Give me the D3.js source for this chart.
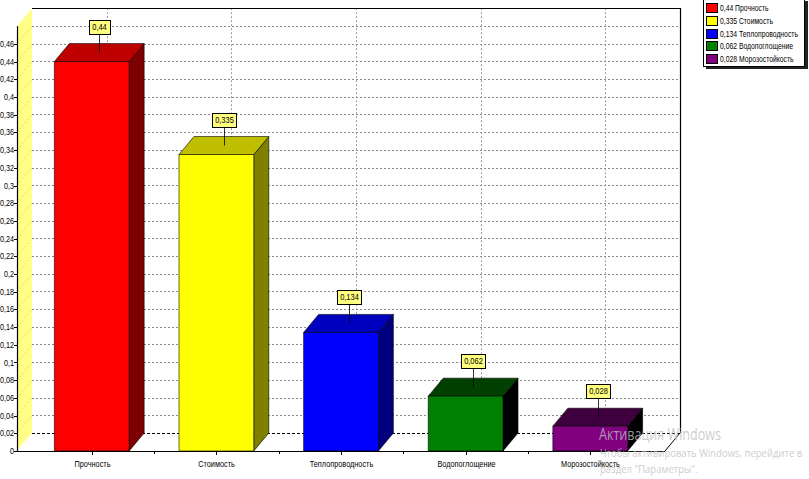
<!DOCTYPE html>
<html>
<head>
<meta charset="utf-8">
<script src="https://cdn.jsdelivr.net/npm/d3@7"></script>
<style>
  html, body { margin: 0; padding: 0; background: #fff; }
  svg { display: block; font-family: "Liberation Sans", Arial, sans-serif; }
</style>
</head>
<body>
<svg id="chart" width="809" height="479"></svg>
<script>
// ---- data ----
const categories = ["Прочность", "Стоимость", "Теплопроводность", "Водопоглощение", "Морозостойкость"];
const values = [0.44, 0.335, 0.134, 0.062, 0.028];
const valueLabels = ["0,44", "0,335", "0,134", "0,062", "0,028"];
const colors = ["#ff0000", "#ffff00", "#0000ff", "#008000", "#800080"];
const yTicks = [0, 0.02, 0.04, 0.06, 0.08, 0.1, 0.12, 0.14, 0.16, 0.18, 0.2, 0.22, 0.24, 0.26, 0.28, 0.3, 0.32, 0.34, 0.36, 0.38, 0.4, 0.42, 0.44, 0.46];
const gridValues = [0, 0.02, 0.04, 0.06, 0.08, 0.1, 0.12, 0.14, 0.16, 0.18, 0.2, 0.22, 0.24, 0.26, 0.28, 0.3, 0.32, 0.34, 0.36, 0.38, 0.4, 0.42, 0.44, 0.46];

// ---- layout ----
const svg = d3.select("#chart");
const pLeft = 17, pRight = 665, pBottom = 451;
const DX = 15, DY = -18;  // 3D depth offset
const y = d3.scaleLinear().domain([0, 0.48]).range([pBottom, pBottom - 0.48 * 885]);
const x = d3.scaleBand().domain(categories).range([pLeft, pRight]).paddingInner(0.4).paddingOuter(0.3);
const pTop = y(0.48);

function darken(c, amt) {
  const r = d3.rgb(c);
  return d3.rgb(Math.max(r.r - amt, 0), Math.max(r.g - amt, 0), Math.max(r.b - amt, 0)).formatHex();
}
const fmt = v => String(+v.toFixed(3)).replace(".", ",");
const pts = arr => arr.map(p => p.join(",")).join(" ");
function condense(sel, f) {
  sel.each(function () {
    const w = this.getComputedTextLength();
    d3.select(this).attr("textLength", w * f).attr("lengthAdjust", "spacingAndGlyphs");
  });
  return sel;
}

// back wall
svg.append("rect").attr("x", pLeft + DX).attr("y", pTop + DY).attr("width", pRight - pLeft).attr("height", pBottom - pTop)
  .attr("fill", "#fff");

// horizontal grid on back wall
svg.append("g").selectAll("line").data(gridValues.filter(v => v > 0)).join("line")
  .attr("x1", pLeft + DX).attr("x2", pRight + DX)
  .attr("y1", d => Math.round(y(d) + DY) + 0.5).attr("y2", d => Math.round(y(d) + DY) + 0.5)
  .attr("stroke", "#8a8a8a").attr("stroke-width", 1).attr("stroke-dasharray", "2,2");
// vertical grid on back wall
svg.append("g").selectAll("line").data(categories).join("line")
  .attr("x1", d => Math.round(x(d) + x.bandwidth() / 2 + DX) + 0.5).attr("x2", d => Math.round(x(d) + x.bandwidth() / 2 + DX) + 0.5)
  .attr("y1", pTop + DY).attr("y2", pBottom + DY)
  .attr("stroke", "#9a9a9a").attr("stroke-width", 1).attr("stroke-dasharray", "2,2");

// left wall
svg.append("polygon")
  .attr("points", pts([[pLeft, pBottom], [pLeft, pTop], [pLeft + DX, pTop + DY], [pLeft + DX, pBottom + DY]]))
  .attr("fill", "#ffff88");
svg.append("g").selectAll("line").data(gridValues.filter(v => v > 0)).join("line")
  .attr("x1", pLeft).attr("x2", pLeft + DX)
  .attr("y1", d => y(d)).attr("y2", d => y(d) + DY)
  .attr("stroke", "#d8d860").attr("stroke-width", 0.8).attr("stroke-dasharray", "2,2");

// floor
svg.append("polygon")
  .attr("points", pts([[pLeft, pBottom], [pLeft + DX, pBottom + DY], [pRight + DX, pBottom + DY], [pRight, pBottom]]))
  .attr("fill", "#fff");
svg.append("line").attr("x1", pRight).attr("y1", pBottom).attr("x2", pRight + DX).attr("y2", pBottom + DY)
  .attr("stroke", "#000").attr("stroke-width", 1);
// back floor line (dashed black)
svg.append("line").attr("x1", pLeft + DX).attr("x2", pRight + DX)
  .attr("y1", Math.round(y(0) + DY) + 0.5).attr("y2", Math.round(y(0) + DY) + 0.5)
  .attr("stroke", "#000").attr("stroke-width", 1).attr("stroke-dasharray", "3,2");

// back wall frame (top and right)
svg.append("polyline")
  .attr("points", pts([[pLeft + DX, Math.round(pTop + DY) + 0.5], [Math.round(pRight + DX) + 0.5, Math.round(pTop + DY) + 0.5], [Math.round(pRight + DX) + 0.5, pBottom + DY]]))
  .attr("fill", "none").attr("stroke", "#000").attr("stroke-width", 1.2);

// bars
const bars = svg.append("g");
categories.forEach((c, i) => {
  const x0 = x(c), w = x.bandwidth(), yt = y(values[i]), yb = y(0);
  const g = bars.append("g").attr("stroke", "#000").attr("stroke-width", 0.6).attr("stroke-linejoin", "round");
  g.append("polygon")
    .attr("points", pts([[x0 + w, yt], [x0 + w + DX, yt + DY], [x0 + w + DX, yb + DY], [x0 + w, yb]]))
    .attr("fill", darken(colors[i], 128));
  g.append("polygon")
    .attr("points", pts([[x0, yt], [x0 + DX, yt + DY], [x0 + w + DX, yt + DY], [x0 + w, yt]]))
    .attr("fill", darken(colors[i], 64));
  g.append("rect").attr("x", x0).attr("y", yt).attr("width", w).attr("height", yb - yt)
    .attr("fill", colors[i]);
});

// axes lines
svg.append("line").attr("x1", pLeft + 0.5).attr("x2", pLeft + 0.5).attr("y1", pTop).attr("y2", pBottom)
  .attr("stroke", "#000").attr("stroke-width", 1.2);
svg.append("line").attr("x1", pLeft).attr("x2", pRight).attr("y1", pBottom + 0.5).attr("y2", pBottom + 0.5)
  .attr("stroke", "#000").attr("stroke-width", 1.2);

// y ticks + labels
const yg = svg.append("g").attr("font-size", 8.5).attr("fill", "#000");
yTicks.forEach(v => {
  const yy = Math.round(y(v)) + 0.5;
  yg.append("line").attr("x1", pLeft - 3).attr("x2", pLeft).attr("y1", yy).attr("y2", yy)
    .attr("stroke", "#000");
  condense(yg.append("text").attr("x", pLeft - 3).attr("y", y(v) + 3).attr("text-anchor", "end").text(fmt(v)), 0.85);
});

// x ticks + labels
const xg = svg.append("g").attr("font-size", 8.5);
categories.forEach(c => {
  const cx = Math.round(x(c) + x.bandwidth() / 2) + 0.5;
  xg.append("line").attr("x1", cx).attr("x2", cx).attr("y1", pBottom).attr("y2", pBottom + 4)
    .attr("stroke", "#000");
  condense(xg.append("text").attr("x", cx).attr("y", pBottom + 16).attr("text-anchor", "middle").text(c), 0.86);
});
x.domain().slice(1).forEach(c => {
  const bx = Math.round(x(c) - x.step() * x.paddingInner() / 2) + 0.5;
  xg.append("line").attr("x1", bx).attr("x2", bx).attr("y1", pBottom).attr("y2", pBottom + 3)
    .attr("stroke", "#000");
});

// value labels (callouts)
const vl = svg.append("g").attr("font-size", 8.5);
categories.forEach((c, i) => {
  const ax = Math.round(x(c) + x.bandwidth() / 2 + DX / 2) + 0.5;
  const ay = y(values[i]) + DY / 2;
  const boxB = Math.round(ay - 19), boxH = 14;
  const t = vl.append("text").attr("x", ax).attr("y", boxB - 4).attr("text-anchor", "middle").text(valueLabels[i]);
  condense(t, 0.88);
  const tw = t.node().getComputedTextLength() * 0.88;
  vl.insert("line", "text").attr("x1", ax).attr("x2", ax).attr("y1", ay).attr("y2", boxB)
    .attr("stroke", "#000").attr("stroke-width", 0.8);
  vl.insert("rect", "text").attr("x", Math.round(ax - tw / 2 - 4) + 0.5).attr("y", boxB - boxH + 0.5)
    .attr("width", Math.round(tw + 8)).attr("height", boxH)
    .attr("fill", "#ffff80").attr("stroke", "#000").attr("stroke-width", 1);
});

// legend
const lg = svg.append("g");
lg.append("rect").attr("x", 706).attr("y", 1).attr("width", 102).attr("height", 68).attr("fill", "#222");
lg.append("rect").attr("x", 703.5).attr("y", -1.5).attr("width", 101).attr("height", 68)
  .attr("fill", "#fff").attr("stroke", "#000").attr("stroke-width", 1);
categories.forEach((c, i) => {
  const yy = 8 + i * 12.8;
  lg.append("rect").attr("x", 706.5).attr("y", Math.round(yy - 5) + 0.5).attr("width", 11).attr("height", 9)
    .attr("fill", colors[i]).attr("stroke", "#000").attr("stroke-width", 1);
  condense(lg.append("text").attr("x", 720).attr("y", yy + 3).attr("font-size", 8.5).text(valueLabels[i] + " " + c), 0.8);
});

// OS watermark overlay
const wm = svg.append("g").attr("font-family", "'Open Sans', 'Noto Sans', sans-serif").attr("fill", "rgba(190,190,190,0.8)");
condense(wm.append("text").attr("x", 599).attr("y", 440).attr("font-size", 15.5).text("Активация Windows"), 0.81);
condense(wm.append("text").attr("x", 600).attr("y", 457).attr("font-size", 10).text("Чтобы активировать Windows, перейдите в"), 0.95);
condense(wm.append("text").attr("x", 600).attr("y", 473).attr("font-size", 10).text("раздел \"Параметры\"."), 0.95);
</script>
</body>
</html>
